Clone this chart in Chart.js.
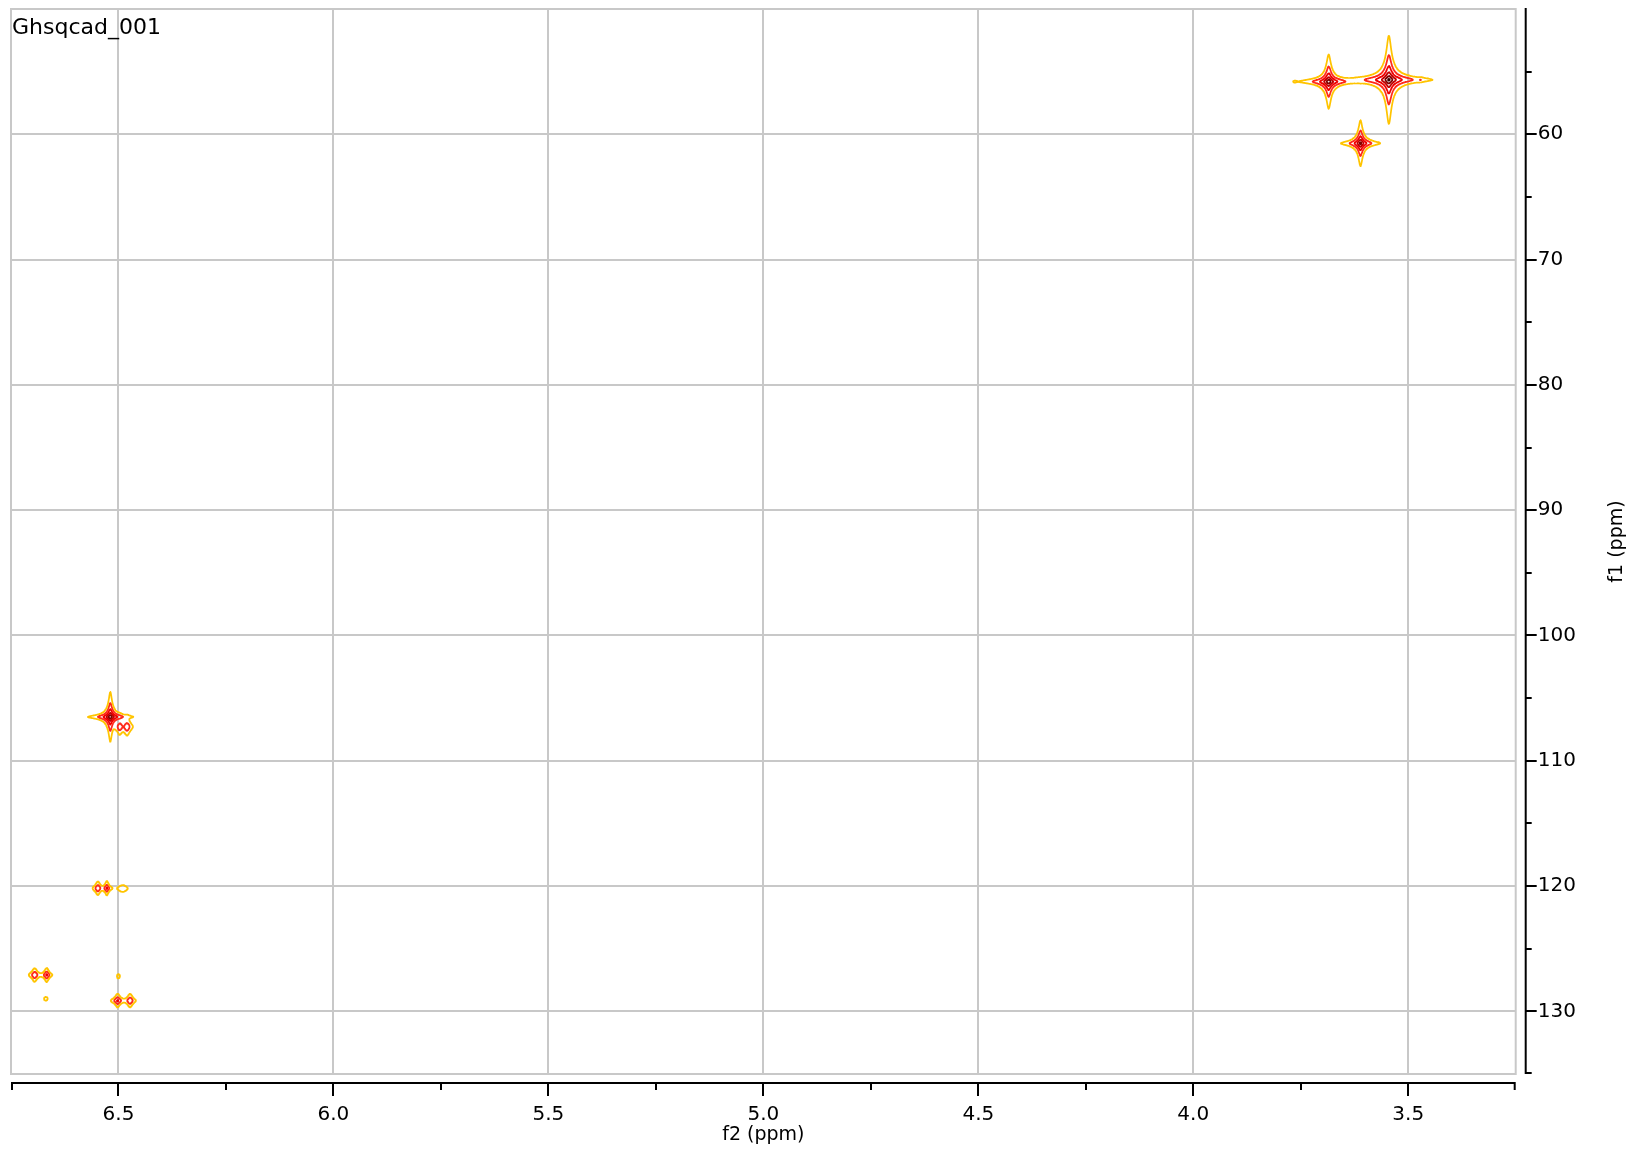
<!DOCTYPE html>
<html>
<head>
<meta charset="utf-8">
<title>Ghsqcad_001</title>
<script src="https://cdn.jsdelivr.net/npm/chart.js@4.4.1/dist/chart.umd.min.js"></script>
<style>
  html, body { margin: 0; padding: 0; background: #fff; }
</style>
</head>
<body>
<canvas id="hsqc" width="1633" height="1149"></canvas>
<script>
// spectrum name shown top left
const spectrumName = 'Ghsqcad_001';

// cross peaks
// f2 = 1H shift (ppm), f1 = 13C shift (ppm), height in units of the lowest contour, half widths in ppm
const peakF2 = [3.545, 3.685, 3.611, 3.471, 3.764, 3.620, 6.519, 6.497, 6.480, 6.548, 6.527, 6.490, 6.695, 6.667, 6.669, 6.500, 6.502, 6.473];
const peakF1 = [55.65, 55.80, 60.72, 55.65, 55.80, 55.70, 106.50, 107.30, 107.30, 120.18, 120.18, 120.20, 127.10, 127.10, 129.00, 127.20, 129.15, 129.15];
const peakHeight = [1200, 600, 350, 2.2, 0.6, 0.8, 700, 8, 9, 12, 18, 2.5, 12, 18, 1.4, 1.4, 18, 12];
const peakWidthF2 = [0.0051, 0.0046, 0.0040, 0.0070, 0.0047, 0.0058, 0.0034, 0.0051, 0.0056, 0.0044, 0.0034, 0.0105, 0.0050, 0.0040, 0.0070, 0.0058, 0.0049, 0.0049];
const peakWidthF1 = [0.184, 0.151, 0.160, 0.096, 0.160, 0.120, 0.130, 0.280, 0.300, 0.204, 0.176, 0.247, 0.204, 0.176, 0.240, 0.280, 0.168, 0.204];

// contour levels (relative) and their colours
const contourLevels = [1, 4, 16, 64, 256, 1024];
const contourColors = ['#ffc400', '#ff2a1a', '#ef0000', '#c00000', '#800000', '#3a0000'];

// axes
const f2Range = [3.25, 6.75];
const f1Range = [50, 135];
const f2Ticks = [3.5, 4.0, 4.5, 5.0, 5.5, 6.0, 6.5];
const f2MinorTicks = [3.25, 3.75, 4.25, 4.75, 5.25, 5.75, 6.25, 6.75];
const f1Ticks = [60, 70, 80, 90, 100, 110, 120, 130];
const f1MinorTicks = [55, 65, 75, 85, 95, 105, 115, 125, 135];

const FONT = '"DejaVu Sans", Verdana, sans-serif';
const GRID = '#c8c8c8';

// lineshape (lorentzian-like, a bit sharper)
function shape(u) {
  return Math.pow(1 + u * u, -1.2);
}

// intensity on a grid over the whole plot (about 2 points per pixel)
const NX = 3010, NY = 2130;
const xs = new Float64Array(NX), ys = new Float64Array(NY);
for (let i = 0; i < NX; i++) xs[i] = f2Range[0] + (f2Range[1] - f2Range[0]) * i / (NX - 1);
for (let j = 0; j < NY; j++) ys[j] = f1Range[0] + (f1Range[1] - f1Range[0]) * j / (NY - 1);

const field = new Float32Array(NX * NY);
const fx = peakF2.map((c, p) => {
  const a = new Float32Array(NX);
  for (let i = 0; i < NX; i++) a[i] = shape((xs[i] - c) / peakWidthF2[p]);
  return a;
});
const gy = peakF1.map((c, p) => {
  const a = new Float32Array(NY);
  for (let j = 0; j < NY; j++) a[j] = peakHeight[p] * shape((ys[j] - c) / peakWidthF1[p]);
  return a;
});
for (let j = 0; j < NY; j++) {
  const act = [];
  for (let p = 0; p < peakF2.length; p++) {
    if (gy[p][j] > 0.01) act.push(p);
  }
  if (!act.length) continue;
  const off = j * NX;
  for (let i = 0; i < NX; i++) {
    let s = 0;
    for (let k = 0; k < act.length; k++) s += fx[act[k]][i] * gy[act[k]][j];
    field[off + i] = s;
  }
}

// marching squares -> line pieces separated by null points
const CASES = {
  1: [[3, 0]], 2: [[0, 1]], 3: [[3, 1]], 4: [[1, 2]], 6: [[0, 2]], 7: [[3, 2]],
  8: [[2, 3]], 9: [[0, 2]], 11: [[1, 2]], 12: [[1, 3]], 13: [[0, 1]], 14: [[3, 0]]
};
function contour(level) {
  const out = [];
  const dx = xs[1] - xs[0], dy = ys[1] - ys[0];
  for (let j = 0; j < NY - 1; j++) {
    for (let i = 0; i < NX - 1; i++) {
      const a = field[j * NX + i], b = field[j * NX + i + 1];
      const c = field[(j + 1) * NX + i + 1], d = field[(j + 1) * NX + i];
      if (a < level && b < level && c < level && d < level) continue;
      if (a >= level && b >= level && c >= level && d >= level) continue;
      const idx = (a >= level ? 1 : 0) | (b >= level ? 2 : 0) | (c >= level ? 4 : 0) | (d >= level ? 8 : 0);
      const edge = e => {
        if (e === 0) return { x: xs[i] + dx * (level - a) / (b - a), y: ys[j] };
        if (e === 1) return { x: xs[i + 1], y: ys[j] + dy * (level - b) / (c - b) };
        if (e === 2) return { x: xs[i] + dx * (level - d) / (c - d), y: ys[j + 1] };
        return { x: xs[i], y: ys[j] + dy * (level - a) / (d - a) };
      };
      let segs;
      if (idx === 5 || idx === 10) {
        const mid = (a + b + c + d) / 4 >= level;
        if (idx === 5) segs = mid ? [[0, 1], [2, 3]] : [[3, 0], [1, 2]];
        else segs = mid ? [[3, 0], [1, 2]] : [[0, 1], [2, 3]];
      } else {
        segs = CASES[idx];
      }
      for (const s of segs) {
        out.push(edge(s[0]), edge(s[1]), { x: null, y: null });
      }
    }
  }
  return out;
}

const datasets = contourLevels.map((lv, k) => ({
  label: 'level ' + lv,
  data: contour(lv),
  showLine: true,
  spanGaps: false,
  borderColor: contourColors[k],
  borderWidth: 1.7,
  borderCapStyle: 'round',
  borderJoinStyle: 'round',
  pointRadius: 0,
  pointHoverRadius: 0,
  tension: 0
}));

// frame, outer axes with ticks, f1 title, spectrum name
const nmrAxes = {
  id: 'nmrAxes',
  beforeDatasetsDraw(chart) {
    const { ctx, chartArea: ca } = chart;
    ctx.save();
    ctx.strokeStyle = GRID;
    ctx.lineWidth = 2;
    ctx.strokeRect(ca.left, ca.top, ca.right - ca.left, ca.bottom - ca.top);
    ctx.restore();
  },
  afterDraw(chart) {
    const { ctx, chartArea: ca, scales } = chart;
    ctx.save();
    ctx.strokeStyle = '#000';
    ctx.lineWidth = 2;
    ctx.lineCap = 'butt';

    // f2 axis
    const ay = ca.bottom + 9;
    ctx.beginPath();
    ctx.moveTo(ca.left, ay);
    ctx.lineTo(ca.right, ay);
    f2Ticks.forEach(v => {
      const px = Math.round(scales.x.getPixelForValue(v));
      ctx.moveTo(px, ay); ctx.lineTo(px, ay + 13);
    });
    f2MinorTicks.forEach(v => {
      let px = Math.round(scales.x.getPixelForValue(v));
      px = Math.min(Math.max(px, ca.left + 1), ca.right - 1);
      ctx.moveTo(px, ay); ctx.lineTo(px, ay + 7);
    });
    ctx.stroke();

    // f1 axis
    const ax = ca.right + 10;
    ctx.beginPath();
    ctx.moveTo(ax, ca.top - 1);
    ctx.lineTo(ax, ca.bottom);
    f1Ticks.forEach(v => {
      const py = Math.round(scales.y.getPixelForValue(v));
      ctx.moveTo(ax, py); ctx.lineTo(ax + 11, py);
    });
    f1MinorTicks.forEach(v => {
      let py = Math.round(scales.y.getPixelForValue(v));
      py = Math.min(py, ca.bottom - 1);
      ctx.moveTo(ax, py); ctx.lineTo(ax + 6, py);
    });
    ctx.stroke();

    // f1 title
    ctx.fillStyle = '#000';
    ctx.font = '19px ' + FONT;
    ctx.textAlign = 'center';
    ctx.textBaseline = 'middle';
    ctx.translate(1617, (ca.top + ca.bottom) / 2);
    ctx.rotate(-Math.PI / 2);
    ctx.fillText('f1 (ppm)', 0, 0);
    ctx.restore();

    // spectrum name
    ctx.save();
    ctx.fillStyle = '#000';
    ctx.font = '22px ' + FONT;
    ctx.textAlign = 'left';
    ctx.textBaseline = 'alphabetic';
    ctx.fillText(spectrumName, ca.left + 1, ca.top + 25);
    ctx.restore();
  }
};

new Chart(document.getElementById('hsqc'), {
  type: 'scatter',
  data: { datasets: datasets },
  options: {
    responsive: false,
    animation: false,
    events: [],
    layout: { autoPadding: false, padding: { left: 11, top: 9, right: 0, bottom: 0 } },
    plugins: { legend: { display: false }, tooltip: { enabled: false } },
    scales: {
      x: {
        type: 'linear',
        position: 'bottom',
        reverse: true,
        min: f2Range[0],
        max: f2Range[1],
        afterBuildTicks: s => { s.ticks = f2Ticks.map(v => ({ value: v })); },
        afterFit: s => { s.height = 75; s.paddingLeft = 0; s.paddingRight = 0; },
        grid: { color: GRID, lineWidth: 2, drawTicks: false },
        border: { display: false },
        ticks: {
          padding: 29, color: '#000', autoSkip: false, maxRotation: 0,
          font: { family: FONT, size: 20 },
          callback: v => Number(v).toFixed(1)
        },
        title: {
          display: true, text: 'f2 (ppm)', color: '#000',
          font: { family: FONT, size: 19 },
          padding: { top: 0, bottom: 3 }
        }
      },
      y: {
        type: 'linear',
        position: 'right',
        reverse: true,
        min: f1Range[0],
        max: f1Range[1],
        afterBuildTicks: s => { s.ticks = f1Ticks.map(v => ({ value: v })); },
        afterFit: s => { s.width = 117.3; s.paddingTop = 0; s.paddingBottom = 0; },
        grid: { color: GRID, lineWidth: 2, drawTicks: false },
        border: { display: false },
        ticks: {
          padding: 22, color: '#000', autoSkip: false,
          font: { family: FONT, size: 20 },
          callback: v => String(v)
        }
      }
    }
  },
  plugins: [nmrAxes]
});
</script>
</body>
</html>
